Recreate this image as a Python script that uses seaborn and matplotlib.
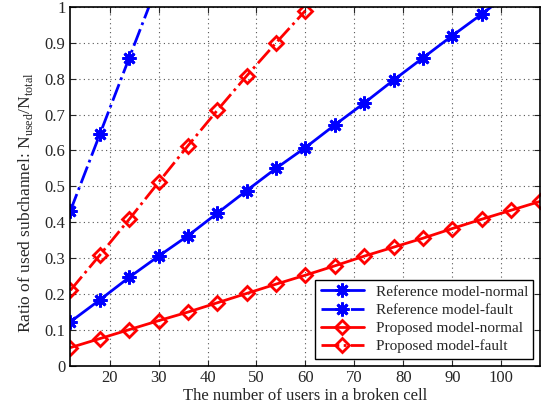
import numpy as np
import pandas as pd
import matplotlib
matplotlib.use('Agg')
import matplotlib.pyplot as plt
import seaborn as sns

# users in a broken cell
users = [12, 18, 24, 30, 36, 42, 48, 54, 60, 66, 72, 78, 84, 90, 96, 102, 108]

ref_normal = [0.122, 0.183, 0.246, 0.305, 0.362, 0.425, 0.488, 0.550, 0.608,
              0.671, 0.732, 0.796, 0.858, 0.920, 0.980, 1.042, 1.104]
ref_fault_users = [12, 18, 24, 30]
ref_fault = [0.432, 0.645, 0.858, 1.07]
prop_normal = [0.050, 0.075, 0.100, 0.125, 0.149, 0.175, 0.201, 0.227, 0.252,
               0.278, 0.305, 0.330, 0.355, 0.382, 0.408, 0.433, 0.458]
prop_fault_users = [12, 18, 24, 30, 36, 42, 48, 54, 60]
prop_fault = [0.210, 0.308, 0.408, 0.511, 0.613, 0.712, 0.808, 0.900, 0.990]

labels = ['Reference model-normal', 'Reference model-fault',
          'Proposed model-normal', 'Proposed model-fault']

sns.set_style('ticks')
plt.rcParams['font.family'] = ['Liberation Serif', 'DejaVu Serif']
plt.rcParams['mathtext.fontset'] = 'custom'
plt.rcParams['mathtext.rm'] = 'Liberation Serif'
plt.rcParams['font.size'] = 11

fig, ax = plt.subplots(figsize=(5.42, 4.13), dpi=100)
fig.subplots_adjust(left=0.13, right=0.997, top=0.983, bottom=0.115)

# MATLAB-style asterisk: 8 line arms
star = dict(marker=(8, 2, 0), markersize=10, markeredgewidth=2, linewidth=2)
diam = dict(marker='D', markersize=7.5, markerfacecolor='none', markeredgewidth=2,
            linewidth=2)

sns.lineplot(x=users, y=ref_normal, color='#0000ff', label=labels[0], ax=ax,
             markeredgecolor='#0000ff', **star)
sns.lineplot(x=ref_fault_users, y=ref_fault, color='#0000ff', linestyle='-.',
             label=labels[1], ax=ax, markeredgecolor='#0000ff', **star)
sns.lineplot(x=users, y=prop_normal, color='#ff0000', label=labels[2], ax=ax,
             markeredgecolor='#ff0000', **diam)
sns.lineplot(x=prop_fault_users, y=prop_fault, color='#ff0000', linestyle='-.',
             label=labels[3], ax=ax, markeredgecolor='#ff0000', **diam)

ax.set_xlim(12, 108)
ax.set_ylim(0, 1)
ax.set_xticks([20, 30, 40, 50, 60, 70, 80, 90, 100])
ax.set_yticks(np.arange(0, 1.01, 0.1))
ax.set_yticklabels(['0', '0.1', '0.2', '0.3', '0.4', '0.5', '0.6', '0.7',
                    '0.8', '0.9', '1'])
ax.tick_params(direction='in', top=True, right=True, labelsize=12, length=4)
ax.grid(True, linestyle=(0, (1, 3)), color='#555555', linewidth=0.8)
for s in ax.spines.values():
    s.set_linewidth(1.2)
    s.set_color('black')

ax.set_xlabel('The number of users in a broken cell', fontsize=12, labelpad=1)
ax.set_ylabel(r'Ratio of used subchannel: N$_\mathregular{used}$/N$_\mathregular{total}$',
              fontsize=12.5)
ax.yaxis.set_label_coords(-0.075, 0.455)

leg = ax.legend(loc='lower right', fontsize=11, frameon=True, fancybox=False,
                edgecolor='black', framealpha=1, borderaxespad=0.45,
                handlelength=2.8, labelspacing=0.29, borderpad=0.35)
leg.get_frame().set_linewidth(1)

fig.savefig('out.png', dpi=100)
